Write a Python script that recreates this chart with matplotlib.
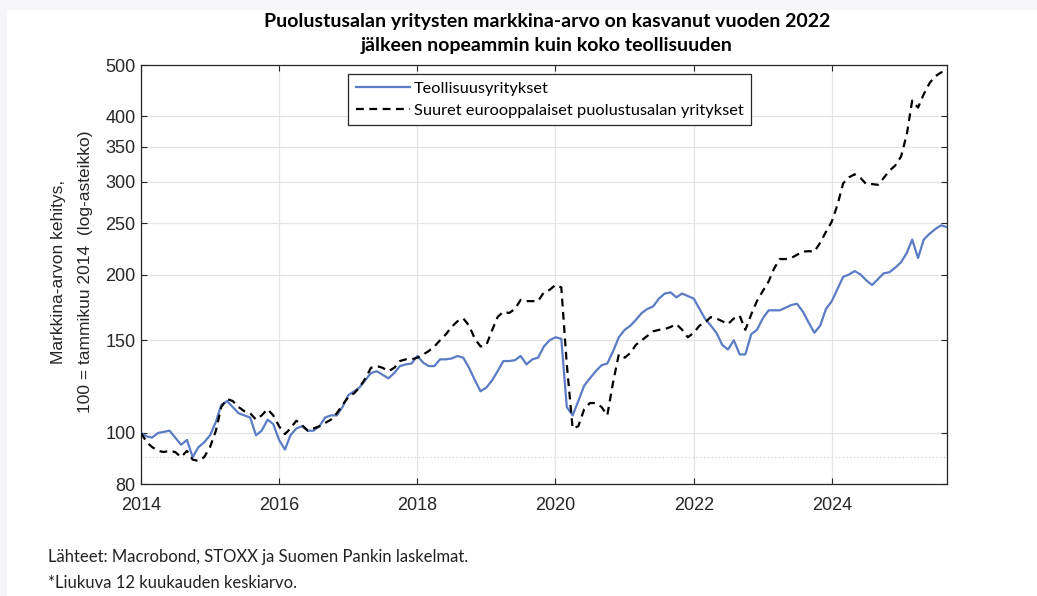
import numpy as np
import pandas as pd
import matplotlib
matplotlib.use("Agg")
import matplotlib.pyplot as plt
import matplotlib.dates as mdates

# data: monthly, Jan 2014 = 100
start = "2014-01-01"
teollisuus = [
    100, 98.5, 98, 100, 100.5, 101, 98, 95, 97, 90, 94, 96,
    99, 105, 113, 115, 112, 109, 108, 107, 99, 101, 106, 104,
    97, 93, 99, 102, 103, 101, 101, 103, 107, 108, 108, 112,
    118, 120, 122, 126, 130, 131, 129, 127, 130, 134, 135, 135.5,
    140, 136, 134, 134, 138, 138, 138.5, 140, 139, 133, 126, 120,
    122, 126, 131, 137, 137, 137.5, 140, 135, 138, 139, 146, 150,
    152, 151, 112, 108, 115, 123, 127, 131, 134.5, 135.5, 143, 152,
    157, 160, 164, 169, 172, 174, 180, 184, 185, 181, 184, 182,
    180, 172, 165, 160, 155, 147, 144, 150, 141, 141, 154, 157,
    165, 171, 171, 171, 173, 175, 176, 170, 162, 155, 160, 172,
    178, 188, 198, 200, 203, 200, 195, 191, 196, 201, 202, 206,
    211, 220, 233, 215, 233, 239, 244, 248, 246,
]
puolustus = [
    100, 96, 94, 92.5, 92, 92.5, 92, 90, 92.5, 89, 88.5, 90,
    94, 101, 112, 116, 115, 112, 110, 109, 106, 108, 111, 108,
    103, 99.5, 102, 105.5, 103.5, 101, 102, 103, 104.5, 106, 109, 113,
    117, 119, 122, 127, 133, 134, 133, 131, 133, 137, 138, 138,
    139, 141, 143, 146, 150, 154, 159, 163, 165, 160, 151, 146,
    147, 157, 166, 170, 169, 172, 179, 178, 178, 178, 185, 187,
    191, 189, 135, 102, 103, 111, 114, 114, 112, 108, 125, 141,
    139, 142, 147, 150, 153, 156, 157, 157.5, 159, 161, 157, 152,
    155, 160, 162, 166, 165, 163, 161, 165, 167, 157, 168, 178,
    186, 194, 205, 214, 214, 215, 218, 221, 221.5, 221, 230, 241,
    252, 272, 298, 306, 310, 305, 297, 297, 296, 305, 315, 322,
    335, 370, 428, 415, 440, 462, 476, 484, 488,
]
labels = ["Teollisuusyritykset", "Suuret eurooppalaiset puolustusalan yritykset"]
yticks = [80, 100, 150, 200, 250, 300, 350, 400, 500]
xyears = [2014, 2016, 2018, 2020, 2022, 2024]

title = ("Puolustusalan yritysten markkina-arvo on kasvanut vuoden 2022\n"
         "jälkeen nopeammin kuin koko teollisuuden")
ylab1 = "Markkina-arvon kehitys,"
ylab2 = "100 = tammikuu 2014  (log-asteikko)"
notes = ["Lähteet: Macrobond, STOXX ja Suomen Pankin laskelmat.",
         "*Liukuva 12 kuukauden keskiarvo."]

dates = pd.date_range(start, periods=len(teollisuus), freq="MS")

plt.rcParams["font.family"] = ["Liberation Sans", "DejaVu Sans"]

fig = plt.figure(figsize=(10.37, 5.96), dpi=100)
fig.patch.set_facecolor("#f6f6f8")
fig.add_artist(plt.Rectangle((7 / 1037, 0), 1, 586 / 596,
                             transform=fig.transFigure, color="white", zorder=0))

ax = fig.add_axes([141 / 1037, 1 - 484 / 596, 806 / 1037, 419 / 596])
ax.set_yscale("log")
ax.plot(dates, teollisuus, color="#5b7bc4", lw=1.6, label=labels[0], zorder=3)
ax.plot(dates, puolustus, color="black", lw=1.6, ls=(0, (3.5, 2.5)), label=labels[1], zorder=3)

ax.set_ylim(80, 500)
ax.set_xlim(pd.Timestamp("2014-01-01"), pd.Timestamp("2025-09-01"))
ax.yaxis.set_major_locator(matplotlib.ticker.FixedLocator(yticks))
ax.yaxis.set_minor_locator(matplotlib.ticker.NullLocator())
ax.yaxis.set_major_formatter(matplotlib.ticker.FixedFormatter([str(v) for v in yticks]))
ax.set_xticks([pd.Timestamp(f"{y}-01-01") for y in xyears])
ax.xaxis.set_major_formatter(mdates.DateFormatter("%Y"))

ax.grid(True, color="#e4e4e4", lw=0.9, zorder=0)
ax.axhline(90, color="#cfcfcf", lw=0.9, ls=(0, (1, 2)), zorder=1)
ax.tick_params(direction="in", top=True, right=True, length=4, width=0.8,
               labelsize=13, colors="#262626")
ax.tick_params(axis="y", pad=4)
ax.tick_params(axis="x", pad=9)
for s in ax.spines.values():
    s.set_color("#262626")
    s.set_linewidth(0.9)

leg = ax.legend(loc="upper left", bbox_to_anchor=(0.257, 0.978), borderaxespad=0,
                fancybox=False, edgecolor="#262626", framealpha=1, handlelength=3.3,
                handletextpad=0.25, borderpad=0.45, labelspacing=0.45,
                prop={"family": "Lato", "size": 11.8})
leg.get_frame().set_linewidth(0.9)

fig.text(547 / 1037, 1 - 33 / 596, title, ha="center", va="center",
         fontsize=14, fontweight="bold", family="Lato", linespacing=1.5)
fig.text(58 / 1037, 1 - 272 / 596, ylab1, rotation=90, ha="center", va="center",
         fontsize=12.5, color="#262626")
fig.text(86 / 1037, 1 - 272 / 596, ylab2, rotation=90, ha="center", va="center",
         fontsize=12.5, color="#262626")
fig.text(48 / 1037, 1 - 557 / 596, notes[0], ha="left", va="center",
         fontsize=12, family="Lato", color="#222222")
fig.text(48 / 1037, 1 - 583 / 596, notes[1], ha="left", va="center",
         fontsize=12, family="Lato", color="#222222")

fig.savefig("out.png", dpi=100)
